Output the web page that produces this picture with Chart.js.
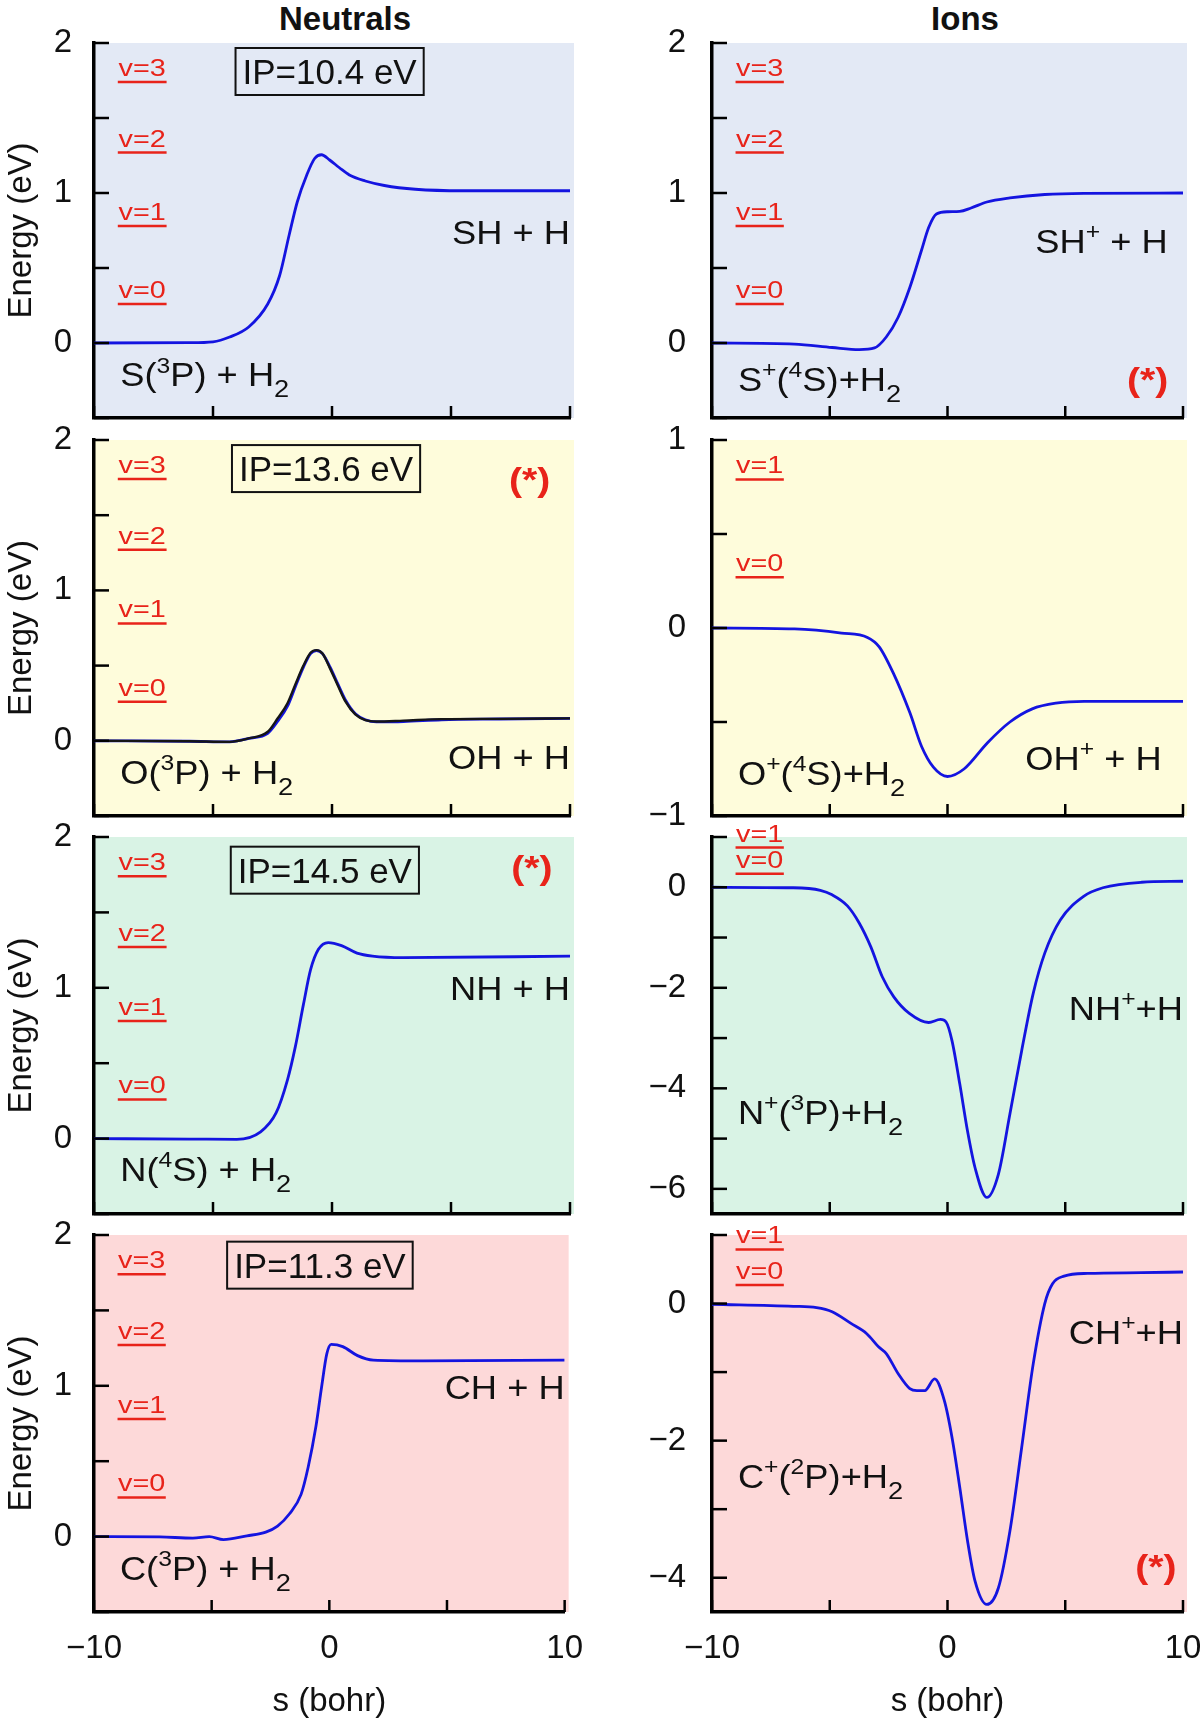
<!DOCTYPE html>
<html>
<head>
<meta charset="utf-8">
<script src="https://cdn.jsdelivr.net/npm/chart.js@4.4.1/dist/chart.umd.min.js"></script>
<style>
    html, body { margin: 0; padding: 0; background: #fff; }
    body { position: relative; width: 1200px; height: 1724px; overflow: hidden; }
    canvas { position: absolute; }
    .coltitle { position: absolute; top: 0; width: 300px; text-align: center; line-height: 40px;
                font: bold 33px 'Liberation Sans', Arial, sans-serif; color: #111; }
</style>
</head>
<body>
<div class="coltitle" style="left:195px">Neutrals</div>
<div class="coltitle" style="left:815px">Ions</div>
<script>
// reaction coordinate s (bohr) and energy (eV)
const sSH = [-10, -6, -5, -4.3, -3.5, -2.7, -2.2, -1.8, -1.46, -1.06, -0.73, -0.44, -0.1, 0.3, 0.73, 1.4, 2.2, 3.5, 5.5, 10];
const eSH = [0, 0.002, 0.008, 0.04, 0.107, 0.26, 0.45, 0.72, 0.94, 1.12, 1.23, 1.255, 1.22, 1.17, 1.12, 1.08, 1.05, 1.025, 1.015, 1.015];

const sSHp = [-10, -6.5, -4.9, -3.75, -3.1, -2.6, -2.1, -1.6, -1.1, -0.8, -0.47, 0.02, 0.52, 1.0, 1.67, 2.65, 4.13, 5.78, 10];
const eSHp = [0, -0.007, -0.03, -0.044, -0.033, 0.04, 0.17, 0.37, 0.62, 0.77, 0.86, 0.875, 0.877, 0.9, 0.94, 0.967, 0.99, 0.998, 1.0];

const sOH = [-10, -6, -4.3, -3.5, -2.7, -2.28, -1.87, -1.54, -1.2, -0.9, -0.65, -0.4, -0.08, 0.24, 0.57, 0.98, 1.4, 1.87, 3.0, 4.6, 7, 10];
const eOH = [0, -0.003, -0.007, 0.016, 0.05, 0.13, 0.23, 0.36, 0.49, 0.58, 0.6, 0.58, 0.49, 0.38, 0.27, 0.18, 0.14, 0.126, 0.128, 0.14, 0.145, 0.149];
const eOHblack = [0, -0.003, -0.007, 0.016, 0.06, 0.15, 0.25, 0.375, 0.5, 0.585, 0.603, 0.58, 0.48, 0.37, 0.26, 0.175, 0.137, 0.128, 0.134, 0.144, 0.146, 0.149];

const sOHp = [-10, -6.5, -4.5, -3.4, -2.9, -2.3, -1.6, -1.1, -0.6, 0.0, 0.7, 1.7, 2.65, 3.6, 4.6, 5.8, 10];
const eOHp = [0, -0.005, -0.027, -0.05, -0.1, -0.24, -0.45, -0.63, -0.74, -0.79, -0.75, -0.61, -0.5, -0.43, -0.4, -0.39, -0.39];

const sNH = [-10, -6, -4, -3.0, -2.35, -1.87, -1.54, -1.2, -0.9, -0.57, -0.16, 0.4, 1.05, 1.7, 3, 10];
const eNH = [0, -0.003, -0.005, 0.045, 0.17, 0.39, 0.61, 0.89, 1.12, 1.255, 1.3, 1.28, 1.23, 1.21, 1.2, 1.21];

const sNHp = [-10, -6.55, -5.4, -4.9, -4.25, -3.75, -3.26, -2.77, -2.28, -1.62, -0.8, -0.3, -0.06, 0.19, 0.52, 0.85, 1.17, 1.67, 2.16, 2.65, 3.15, 3.64, 4.13, 4.79, 5.78, 6.6, 8.24, 10];
const eNHp = [0, -0.01, -0.06, -0.15, -0.37, -0.71, -1.18, -1.78, -2.18, -2.51, -2.69, -2.63, -2.68, -3.05, -3.91, -4.85, -5.58, -6.17, -5.71, -4.51, -3.25, -2.11, -1.31, -0.65, -0.18, -0.01, 0.1, 0.12];

const sCH = [-10, -7.2, -5.8, -5.1, -4.5, -3.5, -2.7, -2.2, -1.7, -1.2, -0.9, -0.57, -0.33, -0.11, 0.08, 0.57, 1.2, 1.87, 4, 10];
const eCH = [0, -0.002, -0.01, 0, -0.02, 0.005, 0.03, 0.07, 0.15, 0.28, 0.46, 0.73, 0.99, 1.21, 1.275, 1.26, 1.2, 1.17, 1.165, 1.17];

const sCHp = [-10, -6.55, -5.56, -4.9, -4.1, -3.43, -2.93, -2.6, -2.1, -1.6, -1.3, -0.96, -0.55, -0.14, 0.19, 0.52, 0.85, 1.17, 1.67, 2.16, 2.65, 3.15, 3.64, 4.13, 4.46, 4.95, 5.94, 8.24, 10];
const eCHp = [-0.01, -0.04, -0.06, -0.12, -0.29, -0.44, -0.63, -0.73, -1.02, -1.24, -1.27, -1.27, -1.1, -1.41, -1.95, -2.68, -3.46, -4.05, -4.39, -4.15, -3.32, -2.1, -0.88, 0.0, 0.29, 0.4, 0.44, 0.45, 0.46];

// H2 vibrational levels (eV)
const vLevels4 = [0.26, 0.78, 1.27, 1.74];
const vLevels2 = [0.27, 0.79];

const ipValues = ['IP=10.4 eV', 'IP=13.6 eV', 'IP=14.5 eV', 'IP=11.3 eV'];

const FONT = "'Liberation Sans', Arial, sans-serif";
const BLUE = '#1414e0';
const RED = '#e8231a';
const INK = '#111';
const BG = ['#e3e9f5', '#fefcdb', '#d9f3e5', '#fdd9d9'];

const rowTop = [43, 440, 837, 1235];
const rowBottom = [418, 816, 1214, 1612];

const panels = [
    { row: 0, col: 0, s: sSH, e: eSH, min: -0.5, max: 2, step: 0.5, every: 1, v: vLevels4,
      ip: ipValues[0], ipAt: [-0.1, 1.81],
      left: 'S(^3P) + H_2', leftAt: [-8.9, -0.21], right: 'SH + H', rightAt: [10, 0.74] },
    { row: 0, col: 1, s: sSHp, e: eSHp, min: -0.5, max: 2, step: 0.5, every: 1, v: vLevels4,
      left: 'S^+(^4S)+H_2', leftAt: [-8.9, -0.24], right: 'SH^+ + H', rightAt: [9.35, 0.68], star: [8.5, -0.26] },
    { row: 1, col: 0, s: sOH, e: eOH, black: eOHblack, min: -0.5, max: 2, step: 0.5, every: 1, v: vLevels4,
      ip: ipValues[1], ipAt: [-0.25, 1.81], star: [8.3, 1.72],
      left: 'O(^3P) + H_2', leftAt: [-8.9, -0.21], right: 'OH + H', rightAt: [10, -0.11] },
    { row: 1, col: 1, s: sOHp, e: eOHp, min: -1, max: 1, step: 0.5, every: 1, v: vLevels2,
      left: 'O^+(^4S)+H_2', leftAt: [-8.9, -0.77], right: 'OH^+ + H', rightAt: [9.1, -0.69] },
    { row: 2, col: 0, s: sNH, e: eNH, min: -0.5, max: 2, step: 0.5, every: 1, v: vLevels4,
      ip: ipValues[2], ipAt: [-0.3, 1.78], star: [8.4, 1.78],
      left: 'N(^4S) + H_2', leftAt: [-8.9, -0.2], right: 'NH + H', rightAt: [10, 1.0] },
    { row: 2, col: 1, s: sNHp, e: eNHp, min: -6.5, max: 1, step: 1, every: 2, v: vLevels2,
      left: 'N^+(^3P)+H_2', leftAt: [-8.9, -4.48], right: 'NH^++H', rightAt: [10, -2.4] },
    { row: 3, col: 0, s: sCH, e: eCH, min: -0.5, max: 2, step: 0.5, every: 1, v: vLevels4,
      ip: ipValues[3], ipAt: [-0.4, 1.8],
      left: 'C(^3P) + H_2', leftAt: [-8.9, -0.21], right: 'CH + H', rightAt: [10, 0.99] },
    { row: 3, col: 1, s: sCHp, e: eCHp, min: -4.5, max: 1, step: 1, every: 2, v: vLevels2,
      left: 'C^+(^2P)+H_2', leftAt: [-8.9, -2.52], right: 'CH^++H', rightAt: [10, -0.42], star: [8.85, -3.87] }
];

function pts(s, e) {
    return s.map((v, i) => ({ x: v, y: e[i] }));
}

function fmtNum(v) {
    return (v < 0 ? '\u2212' : '') + Math.abs(v);
}

function tickValues(min, max, step) {
    const out = [];
    for (let v = Math.ceil(min / step - 1e-9) * step; v <= max + 1e-9; v += step) {
        out.push({ value: Math.round(v * 1000) / 1000 });
    }
    return out;
}

// '^x' -> superscript, '_x' -> subscript
function parseRich(str) {
    const out = [];
    let buf = '';
    for (let i = 0; i < str.length; i++) {
        const ch = str[i];
        if ((ch === '^' || ch === '_') && i + 1 < str.length) {
            if (buf) { out.push({ t: buf, m: 0 }); buf = ''; }
            out.push({ t: str[i + 1], m: ch === '^' ? 1 : -1 });
            i++;
        } else {
            buf += ch;
        }
    }
    if (buf) out.push({ t: buf, m: 0 });
    return out;
}

function drawRich(ctx, str, x, baseY, align, size, opt) {
    opt = opt || {};
    const stretch = opt.stretch || 1;
    const weight = opt.bold ? 'bold ' : '';
    const parts = parseRich(str);
    const fontFor = m => weight + (m === 0 ? size : m === 1 ? size * 0.68 : size * 0.75) + 'px ' + FONT;
    let w = 0;
    parts.forEach(p => { ctx.font = fontFor(p.m); p.w = ctx.measureText(p.t).width; w += p.w; });
    const total = w * stretch;
    const x0 = align === 'right' ? x - total : align === 'center' ? x - total / 2 : x;
    ctx.save();
    ctx.translate(x0, baseY);
    ctx.scale(stretch, 1);
    ctx.fillStyle = opt.color || INK;
    ctx.textAlign = 'left';
    ctx.textBaseline = 'alphabetic';
    let cx = 0;
    parts.forEach(p => {
        ctx.font = fontFor(p.m);
        const dy = p.m === 1 ? -size * 0.42 : p.m === -1 ? size * 0.33 : 0;
        ctx.fillText(p.t, cx, dy);
        cx += p.w;
    });
    ctx.restore();
}

function decor(p) {
    return {
        id: 'decor',
        beforeDraw(chart) {
            const a = chart.chartArea, ctx = chart.ctx;
            ctx.save();
            ctx.fillStyle = BG[p.row];
            ctx.fillRect(a.left, a.top, a.right - a.left + 4, a.bottom - a.top);
            ctx.restore();
        },
        afterDraw(chart) {
            const a = chart.chartArea, ctx = chart.ctx;
            const xs = chart.scales.x, ys = chart.scales.y;
            ctx.save();
            // inward tick marks
            ctx.strokeStyle = '#000';
            ctx.lineWidth = 2.5;
            ys.ticks.forEach(t => {
                const py = ys.getPixelForValue(t.value);
                ctx.beginPath(); ctx.moveTo(a.left, py); ctx.lineTo(a.left + 15, py); ctx.stroke();
            });
            xs.ticks.forEach(t => {
                const px = xs.getPixelForValue(t.value);
                ctx.beginPath(); ctx.moveTo(px, a.bottom); ctx.lineTo(px, a.bottom - 12); ctx.stroke();
            });
            // vibrational level labels
            const vx = (xs.getPixelForValue(-9) + xs.getPixelForValue(-6.95)) / 2;
            p.v.forEach((E, n) => {
                drawRich(ctx, 'v=' + n, vx, ys.getPixelForValue(E) - 6, 'center', 24, { color: RED, stretch: 1.2 });
            });
            // reactant and product labels
            drawRich(ctx, p.left, xs.getPixelForValue(p.leftAt[0]), ys.getPixelForValue(p.leftAt[1]) + 33 * 0.36, 'left', 33, { stretch: 1.1 });
            drawRich(ctx, p.right, xs.getPixelForValue(p.rightAt[0]), ys.getPixelForValue(p.rightAt[1]) + 33 * 0.36, 'right', 33, { stretch: 1.1 });
            // ionization potential box
            if (p.ip) {
                const cx = xs.getPixelForValue(p.ipAt[0]), cy = ys.getPixelForValue(p.ipAt[1]);
                ctx.font = '35px ' + FONT;
                const tw = ctx.measureText(p.ip).width;
                ctx.strokeStyle = INK;
                ctx.lineWidth = 2;
                ctx.strokeRect(cx - tw / 2 - 7, cy - 23.5, tw + 14, 47);
                drawRich(ctx, p.ip, cx, cy + 35 * 0.36, 'center', 35);
            }
            if (p.star) {
                drawRich(ctx, '(*)', xs.getPixelForValue(p.star[0]), ys.getPixelForValue(p.star[1]) + 34 * 0.26, 'center', 34, { color: RED, bold: true, stretch: 1.15 });
            }
            ctx.restore();
        }
    };
}

panels.forEach(p => {
    const last = p.row === 3;
    const padTop = 46;
    const padBottom = last ? 0 : 46;
    const xAxisH = last ? 112 : 0;
    const left = p.col === 0 ? 0 : 600;
    const w = p.col === 0 ? 600 : 640;
    const top = rowTop[p.row] - padTop;
    const h = rowBottom[p.row] - rowTop[p.row] + padTop + padBottom + xAxisH;

    const canvas = document.createElement('canvas');
    canvas.width = w;
    canvas.height = h;
    canvas.style.left = left + 'px';
    canvas.style.top = top + 'px';
    canvas.style.width = w + 'px';
    canvas.style.height = h + 'px';
    document.body.appendChild(canvas);

    const datasets = [];
    if (p.black) {
        datasets.push({ data: pts(p.s, p.black), borderColor: '#151515', borderWidth: 2.4,
                        cubicInterpolationMode: 'monotone', pointRadius: 0 });
    }
    datasets.push({ data: pts(p.s, p.e), borderColor: BLUE, borderWidth: 2.8,
                    cubicInterpolationMode: 'monotone', pointRadius: 0 });
    p.v.forEach(E => {
        datasets.push({ data: [{ x: -9, y: E }, { x: -6.95, y: E }], borderColor: RED, borderWidth: 2.5, pointRadius: 0 });
    });

    const tickFont = { family: FONT, size: 33 };
    new Chart(canvas, {
        type: 'line',
        data: { datasets: datasets },
        options: {
            responsive: false,
            animation: false,
            layout: { padding: { top: padTop, bottom: padBottom, left: 0, right: p.col === 0 ? 30 : 57 } },
            plugins: { legend: { display: false }, tooltip: { enabled: false } },
            elements: { point: { radius: 0 } },
            scales: {
                x: {
                    type: 'linear', min: -10, max: 10,
                    ticks: { display: last, autoSkip: false, maxRotation: 0, padding: 17,
                             font: tickFont, color: INK,
                             callback: v => (v % 10 === 0 ? fmtNum(v) : '') },
                    afterBuildTicks: ax => { ax.ticks = tickValues(-10, 10, 5); },
                    grid: { display: false, drawTicks: false },
                    border: { display: true, color: '#000', width: 3.5 },
                    title: { display: last, text: 's (bohr)', font: tickFont, color: INK, padding: { top: 0, bottom: 2 } },
                    afterFit: ax => { ax.height = xAxisH; }
                },
                y: {
                    type: 'linear', min: p.min, max: p.max,
                    ticks: { autoSkip: false, padding: p.col === 0 ? 22 : 26,
                             font: tickFont, color: INK,
                             callback: v => (Number.isInteger(v) && v % p.every === 0 ? fmtNum(v) : '') },
                    afterBuildTicks: ax => { ax.ticks = tickValues(p.min, p.max, p.step); },
                    grid: { display: false, drawTicks: false },
                    border: { display: true, color: '#000', width: 3.5 },
                    title: { display: p.col === 0, text: 'Energy (eV)', font: tickFont, color: INK, padding: { top: 2, bottom: 0 } },
                    afterFit: ax => { ax.width = p.col === 0 ? 94 : 112; }
                }
            }
        },
        plugins: [decor(p)]
    });
});
</script>
</body>
</html>
